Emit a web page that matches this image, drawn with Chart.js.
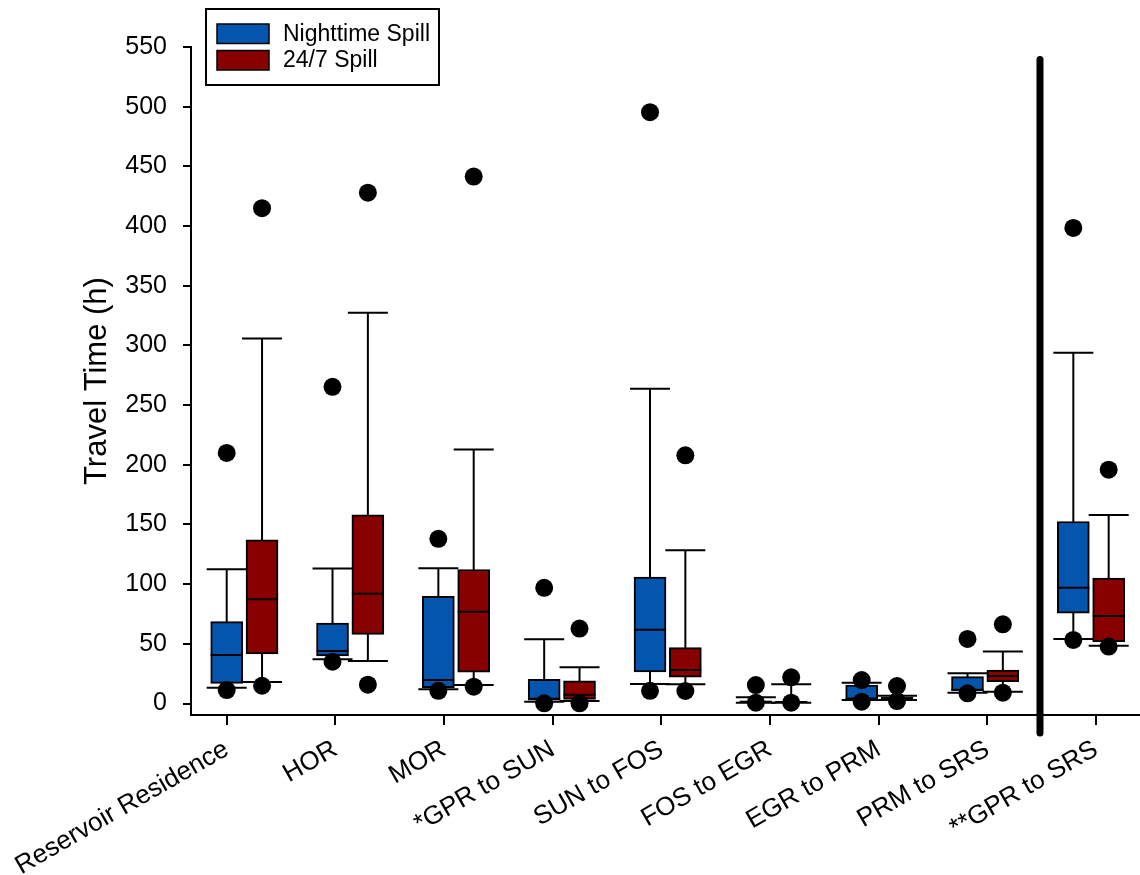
<!DOCTYPE html>
<html>
<head>
<meta charset="utf-8">
<title>Travel Time</title>
<script src="https://cdn.jsdelivr.net/npm/chart.js@4.4.0/dist/chart.umd.min.js"></script>
<style>
  html, body { margin: 0; padding: 0; background: #ffffff; }
  #wrap { width: 1140px; height: 875px; }
</style>
</head>
<body>
<div id="wrap"><canvas id="chart" width="1140" height="875"></canvas></div>
<script>
// ---- data -------------------------------------------------------------
const categories = ['Reservoir Residence', 'HOR', 'MOR', '*GPR to SUN', 'SUN to FOS',
                    'FOS to EGR', 'EGR to PRM', 'PRM to SRS', '**GPR to SRS'];
const yTicks = [0, 50, 100, 150, 200, 250, 300, 350, 400, 450, 500, 550];

// Nighttime spill: whiskers, quartiles, median and outlying points (h)
const nightLow     = [13.3, 37.1, 11.9, 1.5, 16.4, 0.7, 2.9, 9.1, 54.1];
const nightQ1      = [16.9, 39.8, 13.3, 2.9, 26.4, 1.0, 3.5, 10.7, 75.7];
const nightMedian  = [40.7, 44.0, 19.7, 4.0, 61.9, 1.5, 4.0, 11.5, 97.1];
const nightQ3      = [68.6, 67.3, 89.9, 20.3, 105.9, 2.0, 15.5, 22.5, 152.5];
const nightHigh    = [112.6, 113.1, 113.4, 53.9, 263.8, 5.2, 17.5, 25.3, 293.8];
const nightOutliers = [[209.9, 11.3], [265.3, 35.0], [138.0, 10.7], [96.9, 0.2], [495.4, 10.7],
                       [15.5, 0.7], [19.7, 1.5], [54.1, 8.6], [398.4, 53.3]];

// 24/7 spill
const fullLow      = [18.0, 35.7, 15.5, 2.1, 16.1, 0.7, 2.9, 9.9, 48.5];
const fullQ1       = [41.5, 58.0, 26.2, 3.5, 22.0, 0.8, 3.5, 18.3, 51.8];
const fullMedian   = [87.4, 91.9, 76.8, 7.4, 28.1, 1.2, 4.5, 23.1, 73.4];
const fullQ3       = [137.2, 158.1, 112.3, 19.1, 46.8, 1.6, 5.5, 28.1, 105.0];
const fullHigh     = [305.8, 327.3, 212.9, 30.4, 128.5, 16.1, 6.5, 43.5, 157.9];
const fullOutliers = [[415.0, 14.9], [428.0, 15.8], [441.5, 14.1], [62.8, 0.2], [207.9, 10.5],
                      [22.0, 0.7], [14.7, 2.1], [66.4, 9.1], [195.9, 47.7]];

// separator between the reach groups and the whole-river group
const dividerAt = 7.685;
const dividerSpan = [539.5, -24.7];

// ---- layout constants ---------------------------------------------------
const PAIR_SHIFT = 0.334;     // 24/7 box sits to the right of the nighttime box
const TICK_STEP = 1.0268;     // category tick spacing on the box axis
const CAP_WIDTH = 40;
const FONT = '"Liberation Sans", Arial, Helvetica, sans-serif';
const BLUE = '#0455ad';
const RED = '#880000';

const boxes = (q1, q3, shift) => q1.map((v, i) => ({ x: i + shift, y: [v, q3[i]] }));
const dots = (list, shift) => list.flatMap((vals, i) => vals.map(v => ({ x: i + shift, y: v })));

// whiskers and caps go behind the boxes, medians on top of each box
const boxWhiskers = {
  id: 'boxWhiskers',
  beforeDatasetsDraw(chart) {
    const { ctx } = chart;
    const yScale = chart.scales.y;
    chart.data.datasets.forEach((ds, di) => {
      if (!ds.stats) return;
      const meta = chart.getDatasetMeta(di);
      ctx.save();
      ctx.strokeStyle = '#000';
      ctx.lineWidth = 2;
      meta.data.forEach((bar, i) => {
        const x = bar.x;
        const lo = yScale.getPixelForValue(ds.stats.low[i]);
        const hi = yScale.getPixelForValue(ds.stats.high[i]);
        const h = CAP_WIDTH / 2;
        ctx.beginPath();
        ctx.moveTo(x, lo); ctx.lineTo(x, hi);
        ctx.moveTo(x - h, hi); ctx.lineTo(x + h, hi);
        ctx.moveTo(x - h, lo); ctx.lineTo(x + h, lo);
        ctx.stroke();
      });
      ctx.restore();
    });
  },
  afterDatasetDraw(chart, args) {
    const ds = chart.data.datasets[args.index];
    if (!ds.stats) return;
    const { ctx } = chart;
    const yScale = chart.scales.y;
    ctx.save();
    ctx.strokeStyle = '#000';
    ctx.lineWidth = 2;
    args.meta.data.forEach((bar, i) => {
      const { x, width } = bar.getProps(['x', 'width'], true);
      const m = yScale.getPixelForValue(ds.stats.median[i]);
      ctx.beginPath();
      ctx.moveTo(x - width / 2, m);
      ctx.lineTo(x + width / 2, m);
      ctx.stroke();
    });
    ctx.restore();
  }
};

// framed legend in the upper left corner
const boxLegend = {
  id: 'boxLegend',
  afterDraw(chart) {
    const { ctx } = chart;
    const entries = chart.data.datasets.filter(d => d.stats);
    ctx.save();
    ctx.strokeStyle = '#000';
    ctx.lineWidth = 2;
    ctx.strokeRect(206, 9, 233, 76);
    ctx.font = '23px ' + FONT;
    ctx.textBaseline = 'middle';
    entries.forEach((d, k) => {
      const top = 24 + k * 26.5;
      ctx.fillStyle = d.backgroundColor;
      ctx.fillRect(217, top, 52, 19.5);
      ctx.lineWidth = 1.5;
      ctx.strokeRect(217, top, 52, 19.5);
      ctx.fillStyle = '#000';
      ctx.fillText(d.label, 283, top + 10.5);
    });
    ctx.restore();
  }
};

new Chart(document.getElementById('chart'), {
  type: 'bar',
  data: {
    datasets: [
      {
        type: 'line',
        label: 'divider',
        data: dividerSpan.map(v => ({ x: dividerAt, y: v })),
        borderColor: '#000',
        borderWidth: 7,
        borderCapStyle: 'round',
        pointRadius: 0,
        clip: false,
        order: 0
      },
      {
        type: 'scatter',
        label: 'Nighttime outliers',
        data: dots(nightOutliers, 0),
        backgroundColor: '#000',
        borderWidth: 0,
        pointRadius: 9,
        clip: false,
        order: 1
      },
      {
        type: 'scatter',
        label: '24/7 outliers',
        data: dots(fullOutliers, PAIR_SHIFT),
        backgroundColor: '#000',
        borderWidth: 0,
        pointRadius: 9,
        clip: false,
        order: 1
      },
      {
        label: 'Nighttime Spill',
        data: boxes(nightQ1, nightQ3, 0),
        stats: { low: nightLow, median: nightMedian, high: nightHigh },
        backgroundColor: BLUE,
        borderColor: '#000',
        borderWidth: 2,
        borderSkipped: false,
        grouped: false,
        barPercentage: 1,
        categoryPercentage: 1,
        maxBarThickness: 32,
        order: 2
      },
      {
        label: '24/7 Spill',
        data: boxes(fullQ1, fullQ3, PAIR_SHIFT),
        stats: { low: fullLow, median: fullMedian, high: fullHigh },
        backgroundColor: RED,
        borderColor: '#000',
        borderWidth: 2,
        borderSkipped: false,
        grouped: false,
        barPercentage: 1,
        categoryPercentage: 1,
        maxBarThickness: 32,
        order: 2
      }
    ]
  },
  options: {
    responsive: false,
    devicePixelRatio: 1,
    animation: false,
    layout: { autoPadding: false, padding: { top: 47, left: 0, right: 0, bottom: 0 } },
    plugins: { legend: { display: false }, tooltip: { enabled: false } },
    scales: {
      x: {
        type: 'linear',
        min: -0.3373,
        max: 8.63,
        offset: false,
        grid: { offset: false, drawOnChartArea: false, drawTicks: true, tickLength: 10, color: '#000', lineWidth: 2 },
        border: { display: true, color: '#000', width: 2 },
        afterBuildTicks: scale => { scale.ticks = categories.map((c, i) => ({ value: i * TICK_STEP })); },
        afterFit: scale => { scale.height = 160; scale.paddingLeft = 0; scale.paddingRight = 0; },
        ticks: {
          autoSkip: false,
          minRotation: 30,
          maxRotation: 30,
          padding: 9,
          color: '#000',
          font: { family: FONT, size: 26, lineHeight: 1.2 },
          callback: (v, i) => categories[i]
        }
      },
      y: {
        type: 'linear',
        min: -9.6,
        max: 550,
        grid: { drawOnChartArea: false, drawTicks: true, tickLength: 8, color: '#000', lineWidth: 2 },
        border: { display: true, color: '#000', width: 2 },
        afterBuildTicks: scale => { scale.ticks = yTicks.map(v => ({ value: v })); },
        afterFit: scale => { scale.width = 191; },
        ticks: {
          padding: 16,
          color: '#000',
          font: { family: FONT, size: 25 },
          callback: v => String(v)
        },
        title: {
          display: true,
          text: 'Travel Time (h)',
          color: '#000',
          font: { family: FONT, size: 31, lineHeight: 1.2 },
          padding: { top: 79, bottom: 0 }
        }
      }
    }
  },
  plugins: [boxWhiskers, boxLegend]
});
</script>
</body>
</html>
